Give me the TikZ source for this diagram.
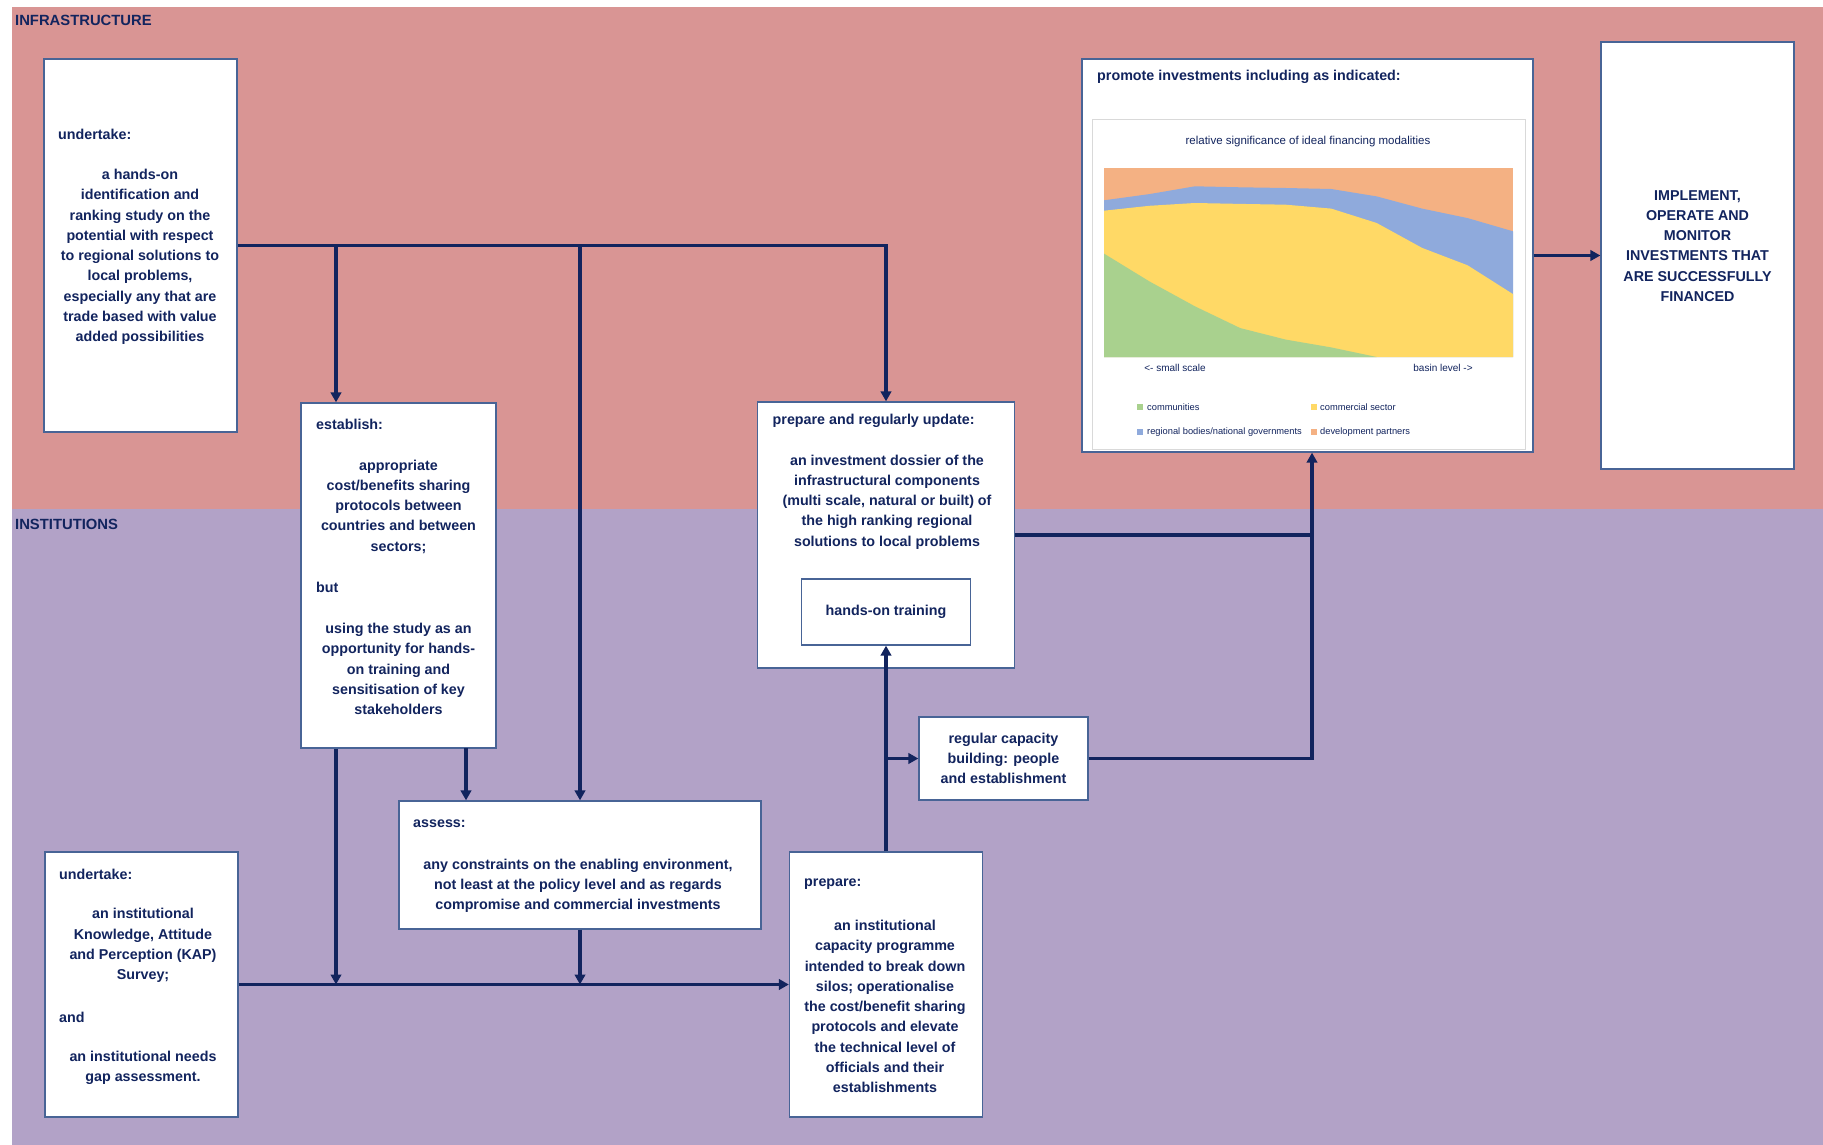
\documentclass[tikz,border=0pt]{standalone}
\usepackage{fontspec}
\setmainfont{Liberation Sans}
\usetikzlibrary{arrows.meta,calc}

\definecolor{infra}{RGB}{217,149,148}
\definecolor{inst}{RGB}{178,162,199}
\definecolor{ink}{RGB}{18,36,94}
\definecolor{edge}{RGB}{72,100,150}
\definecolor{cgreen}{RGB}{169,209,142}
\definecolor{cyellow}{RGB}{255,217,102}
\definecolor{cblue}{RGB}{143,170,220}
\definecolor{corange}{RGB}{244,177,131}
\definecolor{frame}{RGB}{217,217,217}

\begin{document}
\begin{tikzpicture}[x=1pt,y=-1pt,
  box/.style={draw=edge, line width=1.3pt, fill=white, inner sep=0pt},
  body/.style={text=ink, font=\bfseries\fontsize{14.3}{20.25}\selectfont, align=center, inner sep=0pt},
  head/.style={body, anchor=west},
  chartlbl/.style={text=ink, font=\fontsize{11.5}{13}\selectfont, inner sep=0pt},
  legend/.style={text=ink, font=\fontsize{9.3}{11}\selectfont, inner sep=0pt, anchor=west},
  flow/.style={draw=ink, line width=3.2pt, -{Triangle[length=10pt,width=10.5pt]}},
  link/.style={draw=ink, line width=3.2pt}]

% Page and the two bands
\fill[white] (0,0) rectangle (1823,1145);
\useasboundingbox (0,0) rectangle (1823,1145);
\fill[infra] (12,7) rectangle (1823,509);
\fill[inst] (12,509) rectangle (1823,1145);
\node[head, font=\bfseries\fontsize{14.8}{17}\selectfont] (infralbl) at (15,20.5) {INFRASTRUCTURE};
\node[head, font=\bfseries\fontsize{14.8}{17}\selectfont] (instlbl) at (15,524) {INSTITUTIONS};

% Boxes
\node[box, minimum width=193pt, minimum height=373pt] (und1) at (140.5,245.5) {};
\node[box, minimum width=195pt, minimum height=345pt] (est) at (398.5,575.5) {};
\node[box, minimum width=362pt, minimum height=128pt] (ass) at (580,865) {};
\node[box, minimum width=193pt, minimum height=265pt] (und2) at (141.5,984.5) {};
\node[box, minimum width=193pt, minimum height=265pt] (prep2) at (886,984.5) {};
\node[box, minimum width=257pt, minimum height=266pt] (prep1) at (886,535) {};
\node[box, body, minimum width=169pt, minimum height=66pt] (train) at (886,612) {hands-on training};
\node[box, body, minimum width=169pt, minimum height=83pt] (cap) at (1003.5,758.5)
  {regular capacity\\building: people\\and establishment};
\node[box, minimum width=451pt, minimum height=393pt] (prom) at (1307.5,255.5) {};
\node[box, minimum width=193pt, minimum height=427pt] (impl) at (1697.5,255.5) {};

% Texts of the boxes
\node[head] (und1h) at (58,134) {undertake:};
\node[body] (und1b) at (140,257) {a hands-on\\identification and\\ranking study on the\\potential with respect\\to regional solutions to\\local problems,\\especially any that are\\trade based with value\\added possibilities};

\node[head] (esth) at (316,424.5) {establish:};
\node[body] (esta) at (398.5,506.5) {appropriate\\cost/benefits sharing\\protocols between\\countries and between\\sectors;};
\node[head] (estbut) at (316,587) {but};
\node[body] (estb) at (398.5,669) {using the study as an\\opportunity for hands-\\on training and\\sensitisation of key\\stakeholders};

\node[head] (assh) at (413,824) {assess:};
\node[body] (assb) at (578,886) {any constraints on the enabling environment,\\not least at the policy level and as regards\\compromise and commercial investments};

\node[head] (und2h) at (59,874) {undertake:};
\node[body] (und2a) at (143,945.5) {an institutional\\Knowledge, Attitude\\and Perception (KAP)\\Survey;};
\node[head] (und2and) at (59,1017) {and};
\node[body] (und2b) at (143,1067.5) {an institutional needs\\gap assessment.};

\node[head] (prep2h) at (804,884) {prepare:};
\node[body] (prep2b) at (885,1006.5) {an institutional\\capacity programme\\intended to break down\\silos; operationalise\\the cost/benefit sharing\\protocols and elevate\\the technical level of\\officials and their\\establishments};

\node[head] (prep1h) at (772.5,421) {prepare and regularly update:};
\node[body] (prep1b) at (887,502) {an investment dossier of the\\infrastructural components\\(multi scale, natural or built) of\\the high ranking regional\\solutions to local problems};

\node[head] (promh) at (1097,77) {promote investments including as indicated:};
\node[body] (implb) at (1697.5,246) {IMPLEMENT,\\OPERATE AND\\MONITOR\\INVESTMENTS THAT\\ARE SUCCESSFULLY\\FINANCED};

% Chart inside the promote box
\draw[frame, line width=0.8pt, fill=white] (1092,119) rectangle (1525,449);
\node[chartlbl] (ctitle) at (1308,142) {relative significance of ideal financing modalities};
\fill[corange] (1104,168) rectangle (1513,357);
\fill[cblue] (1104,357) -- plot coordinates {(1104,200.3) (1149.4,194.1) (1194.9,186.3) (1240.3,187.3) (1285.8,188) (1331.2,189) (1376.7,196.4) (1422.1,208.6) (1467.6,218.1) (1513,231.3)} -- (1513,357) -- cycle;
\fill[cyellow] (1104,357) -- plot coordinates {(1104,210.7) (1149.4,205.8) (1194.9,203) (1240.3,203.9) (1285.8,204.7) (1331.2,208.6) (1376.7,223) (1422.1,247.9) (1467.6,265.3) (1513,294.1)} -- (1513,357) -- cycle;
\fill[cgreen] (1104,357) -- plot coordinates {(1104,253.6) (1149.4,281.4) (1194.9,306.3) (1240.3,328.1) (1285.8,339.6) (1331.2,347.4) (1376.7,357)} -- cycle;
\node[chartlbl, font=\fontsize{10}{11}\selectfont] (small) at (1175,368) {<- small scale};
\node[chartlbl, font=\fontsize{10}{11}\selectfont] (basin) at (1443,368) {basin level ->};

% Legend
\fill[cgreen] (1137,404) rectangle ++(5.5,5.5);
\node[legend] (lg1) at (1147,407) {communities};
\fill[cyellow] (1311,404) rectangle ++(5.5,5.5);
\node[legend] (lg2) at (1320,407) {commercial sector};
\fill[cblue] (1137,429) rectangle ++(5.5,5.5);
\node[legend] (lg3) at (1147,432) {regional bodies/national governments};
\fill[corange] (1311,429) rectangle ++(5.5,5.5);
\node[legend] (lg4) at (1320,432) {development partners};

% Connectors
\coordinate (sp1) at (336,245.5);
\coordinate (sp3) at (466,748);
\coordinate (mg) at ([xshift=4.5pt]prom.south);
\draw[flow] (und1.east) -| (prep1.north);
\draw[flow] (sp1) -- (sp1 |- est.north);
\draw[flow] (und1.east -| ass.north) -- (ass.north);
\draw[flow] (sp1 |- est.south) -- (sp1 |- und2.east);
\draw[flow] (sp3) -- (sp3 |- ass.north);
\draw[flow] (ass.south) -- (ass.south |- und2.east);
\draw[flow] (und2.east) -- (prep2.west);
\draw[flow] (prep2.north) -- (train.south);
\draw[flow] (prep2.north |- cap.west) -- (cap.west);
\draw[link] (prep1.east) -- (prep1.east -| mg);
\draw[flow] (cap.east) -| (mg);
\draw[flow] (prom.east) -- (impl.west);

\end{tikzpicture}
\end{document}
